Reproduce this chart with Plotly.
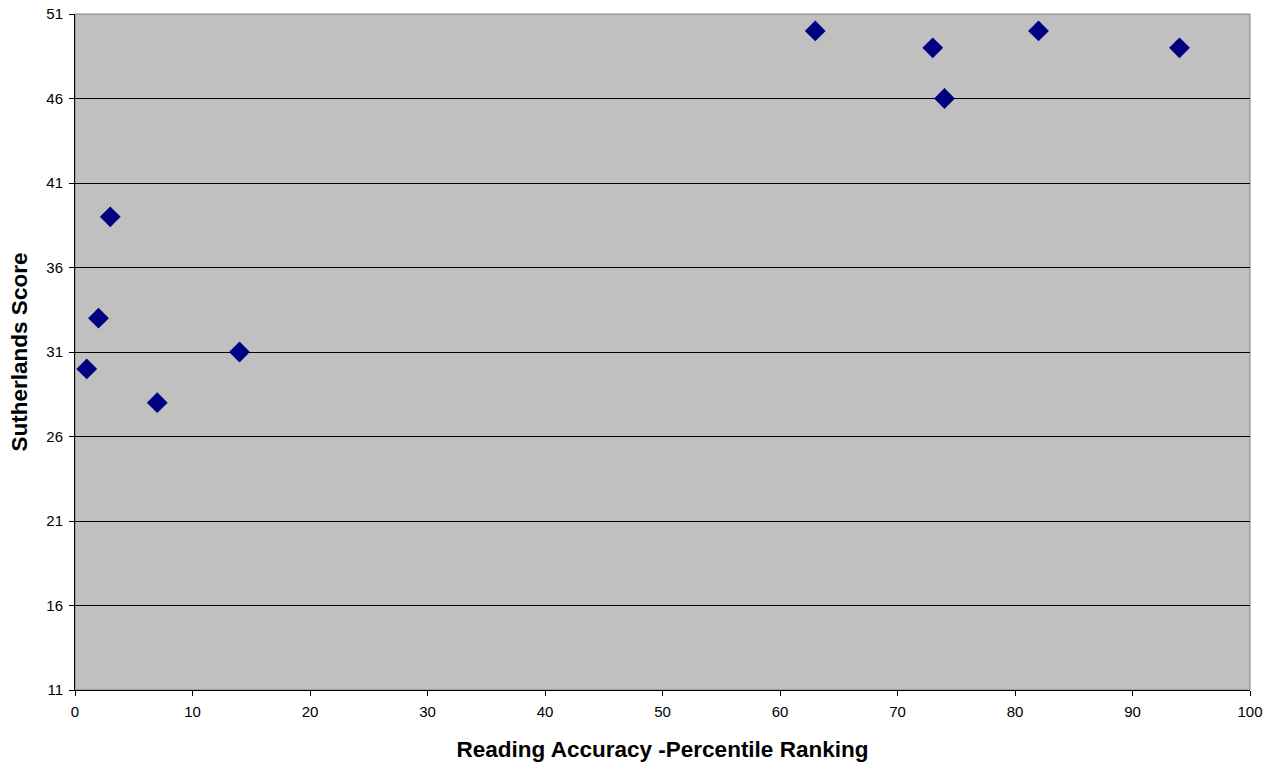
import plotly.graph_objects as go

# Reading accuracy percentile vs Sutherlands score
reading_percentile = [1, 2, 3, 7, 14, 63, 73, 74, 82, 94]
sutherlands_score = [30, 33, 39, 28, 31, 50, 49, 46, 50, 49]

x_ticks = list(range(0, 101, 10))
y_ticks = list(range(11, 52, 5))

fig = go.Figure()
fig.add_trace(go.Scatter(
    x=reading_percentile,
    y=sutherlands_score,
    mode="markers",
    marker=dict(symbol="diamond", size=16, color="#000080", line=dict(width=0)),
    showlegend=False,
))

font = dict(family="Arial, Liberation Sans, sans-serif", color="black")

fig.update_layout(
    width=1274,
    height=765,
    margin=dict(l=75, r=24, t=14, b=75, autoexpand=False),
    paper_bgcolor="white",
    plot_bgcolor="#C0C0C0",
    font=dict(**font, size=15),
    xaxis=dict(
        range=[0, 100],
        tickvals=x_ticks,
        showgrid=False,
        zeroline=False,
        showline=True,
        linecolor="black",
        linewidth=1,
        ticks="outside",
        ticklen=5,
        tickcolor="black",
        tickfont=dict(size=15),
        ticklabelstandoff=3,
        automargin=False,
        title=dict(text="<b>Reading Accuracy -Percentile Ranking</b>",
                   font=dict(size=22.5), standoff=22),
    ),
    yaxis=dict(
        range=[11, 51],
        tickvals=y_ticks,
        showgrid=True,
        gridcolor="black",
        gridwidth=1,
        zeroline=False,
        showline=True,
        linecolor="black",
        linewidth=1,
        ticks="outside",
        ticklen=5,
        tickcolor="black",
        tickfont=dict(size=15),
        ticklabelstandoff=3,
        automargin=False,
        title=dict(text="<b>Sutherlands Score</b>",
                   font=dict(size=22.5), standoff=12),
    ),
    shapes=[dict(
        type="rect", xref="paper", yref="paper",
        x0=0, y0=0, x1=1, y1=1,
        line=dict(color="#808080", width=1),
        layer="below",
    )],
)

fig.write_html("out.html")
